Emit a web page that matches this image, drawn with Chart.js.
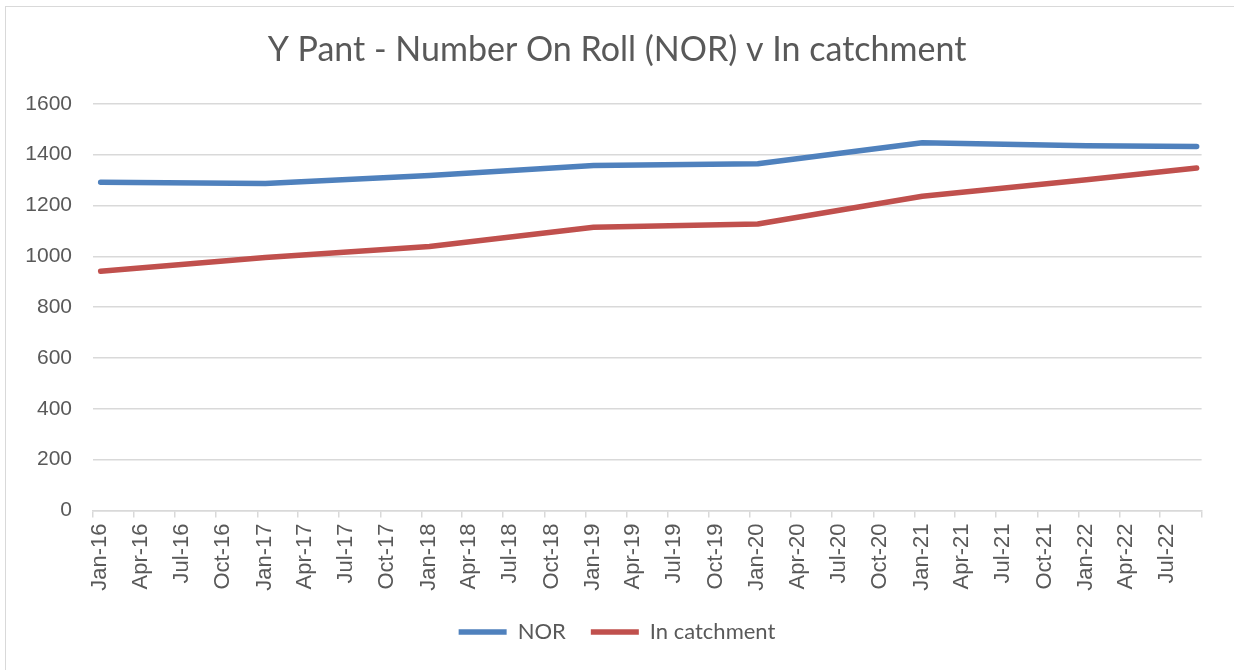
<!DOCTYPE html>
<html>
<head>
<meta charset="utf-8">
<title>Y Pant - Number On Roll (NOR) v In catchment</title>
<script src="https://cdn.jsdelivr.net/npm/chart.js@4/dist/chart.umd.min.js"></script>
<style>
    html, body { margin: 0; padding: 0; background: #ffffff; overflow: hidden; }
    #wrap { position: relative; width: 1234px; height: 670px; }
    #frame {
        position: absolute; left: 5px; top: 6px; width: 1260px; height: 700px;
        border: 1px solid #d9d9d9; box-sizing: border-box; pointer-events: none;
    }
    canvas { display: block; }
</style>
</head>
<body>
<div id="wrap">
    <canvas id="norChart" width="1234" height="670"></canvas>
    <div id="frame"></div>
</div>
<script>
// Chart data
const pointDates = ['2016-01-18', '2017-01-18', '2018-01-18', '2019-01-18',
                    '2020-01-18', '2021-01-18', '2022-01-18', '2022-09-20'];
const norValues = [1291, 1286, 1318, 1357, 1364, 1447, 1435, 1432];
const catchmentValues = [941, 995, 1039, 1114, 1127, 1236, 1301, 1347];

const tickLabels = ['Jan-16', 'Apr-16', 'Jul-16', 'Oct-16', 'Jan-17', 'Apr-17', 'Jul-17', 'Oct-17',
                    'Jan-18', 'Apr-18', 'Jul-18', 'Oct-18', 'Jan-19', 'Apr-19', 'Jul-19', 'Oct-19',
                    'Jan-20', 'Apr-20', 'Jul-20', 'Oct-20', 'Jan-21', 'Apr-21', 'Jul-21', 'Oct-21',
                    'Jan-22', 'Apr-22', 'Jul-22'];
const axisEndDate = '2022-10-01';
const yMin = 0, yMax = 1600, yStep = 200;

const seriesNames = ['NOR', 'In catchment'];
const seriesColors = ['#4f81bd', '#c0504d'];

// Date helpers: x axis counts days from 1 Jan 2016
const MONTHS = ['Jan', 'Feb', 'Mar', 'Apr', 'May', 'Jun', 'Jul', 'Aug', 'Sep', 'Oct', 'Nov', 'Dec'];
const BASE = Date.UTC(2016, 0, 1);

function dayNumber(iso) {
    const [y, m, d] = iso.split('-').map(Number);
    return (Date.UTC(y, m - 1, d) - BASE) / 86400000;
}

function labelDay(label) {
    const [mon, yy] = label.split('-');
    return (Date.UTC(2000 + Number(yy), MONTHS.indexOf(mon), 1) - BASE) / 86400000;
}

const tickDays = tickLabels.map(labelDay);
const labelByDay = new Map(tickDays.map((d, i) => [d, tickLabels[i]]));
const xMax = dayNumber(axisEndDate);

const textColor = '#595959';
const gridColor = '#d9d9d9';
const axisFont = { family: "'Liberation Sans', Arial, sans-serif", size: 21 };

function buildSeries(values) {
    return values.map((v, i) => ({ x: dayNumber(pointDates[i]), y: v }));
}

const ctx = document.getElementById('norChart').getContext('2d');
new Chart(ctx, {
    type: 'line',
    data: {
        datasets: [
            {
                label: seriesNames[0],
                data: buildSeries(norValues),
                borderColor: seriesColors[0],
                backgroundColor: seriesColors[0],
                borderWidth: 5.5,
                borderCapStyle: 'round',
                borderJoinStyle: 'round',
                pointRadius: 0,
                tension: 0
            },
            {
                label: seriesNames[1],
                data: buildSeries(catchmentValues),
                borderColor: seriesColors[1],
                backgroundColor: seriesColors[1],
                borderWidth: 5.5,
                borderCapStyle: 'round',
                borderJoinStyle: 'round',
                pointRadius: 0,
                tension: 0
            }
        ]
    },
    options: {
        responsive: false,
        animation: false,
        layout: { padding: { left: 0, right: 0, top: 0, bottom: 17 } },
        plugins: {
            tooltip: { enabled: false },
            title: {
                display: true,
                text: 'Y Pant - Number On Roll (NOR) v In catchment',
                color: textColor,
                font: { family: 'Lato, sans-serif', size: 34, weight: 'normal' },
                padding: { top: 30, bottom: 33 }
            },
            legend: {
                position: 'bottom',
                labels: {
                    usePointStyle: true,
                    pointStyle: 'line',
                    pointStyleWidth: 48,
                    padding: 25,
                    color: textColor,
                    font: { family: 'Lato, sans-serif', size: 22 }
                }
            }
        },
        scales: {
            x: {
                type: 'linear',
                min: 0,
                max: xMax,
                afterBuildTicks: axis => {
                    axis.ticks = tickDays.concat([xMax]).map(v => ({ value: v }));
                },
                afterFit: scale => { scale.height = 85.5; },
                ticks: {
                    autoSkip: false,
                    minRotation: 90,
                    maxRotation: 90,
                    padding: 6,
                    labelOffset: 7,
                    color: textColor,
                    font: { family: "'Liberation Sans', Arial, sans-serif", size: 22 },
                    callback: value => labelByDay.get(value) || ''
                },
                grid: { drawOnChartArea: false, color: gridColor, tickLength: 7, lineWidth: 1.5 },
                border: { color: gridColor, width: 1.5 }
            },
            y: {
                min: yMin,
                max: yMax,
                afterFit: scale => { scale.width = 93; },
                ticks: {
                    stepSize: yStep,
                    padding: 21,
                    color: textColor,
                    font: axisFont,
                    callback: value => String(value)
                },
                grid: { color: gridColor, lineWidth: 1.5, drawTicks: false },
                border: { display: false }
            },
            yRight: {
                position: 'right',
                afterFit: scale => { scale.width = 29; },
                ticks: { display: false },
                grid: { display: false },
                border: { display: false }
            }
        }
    }
});
</script>
</body>
</html>
